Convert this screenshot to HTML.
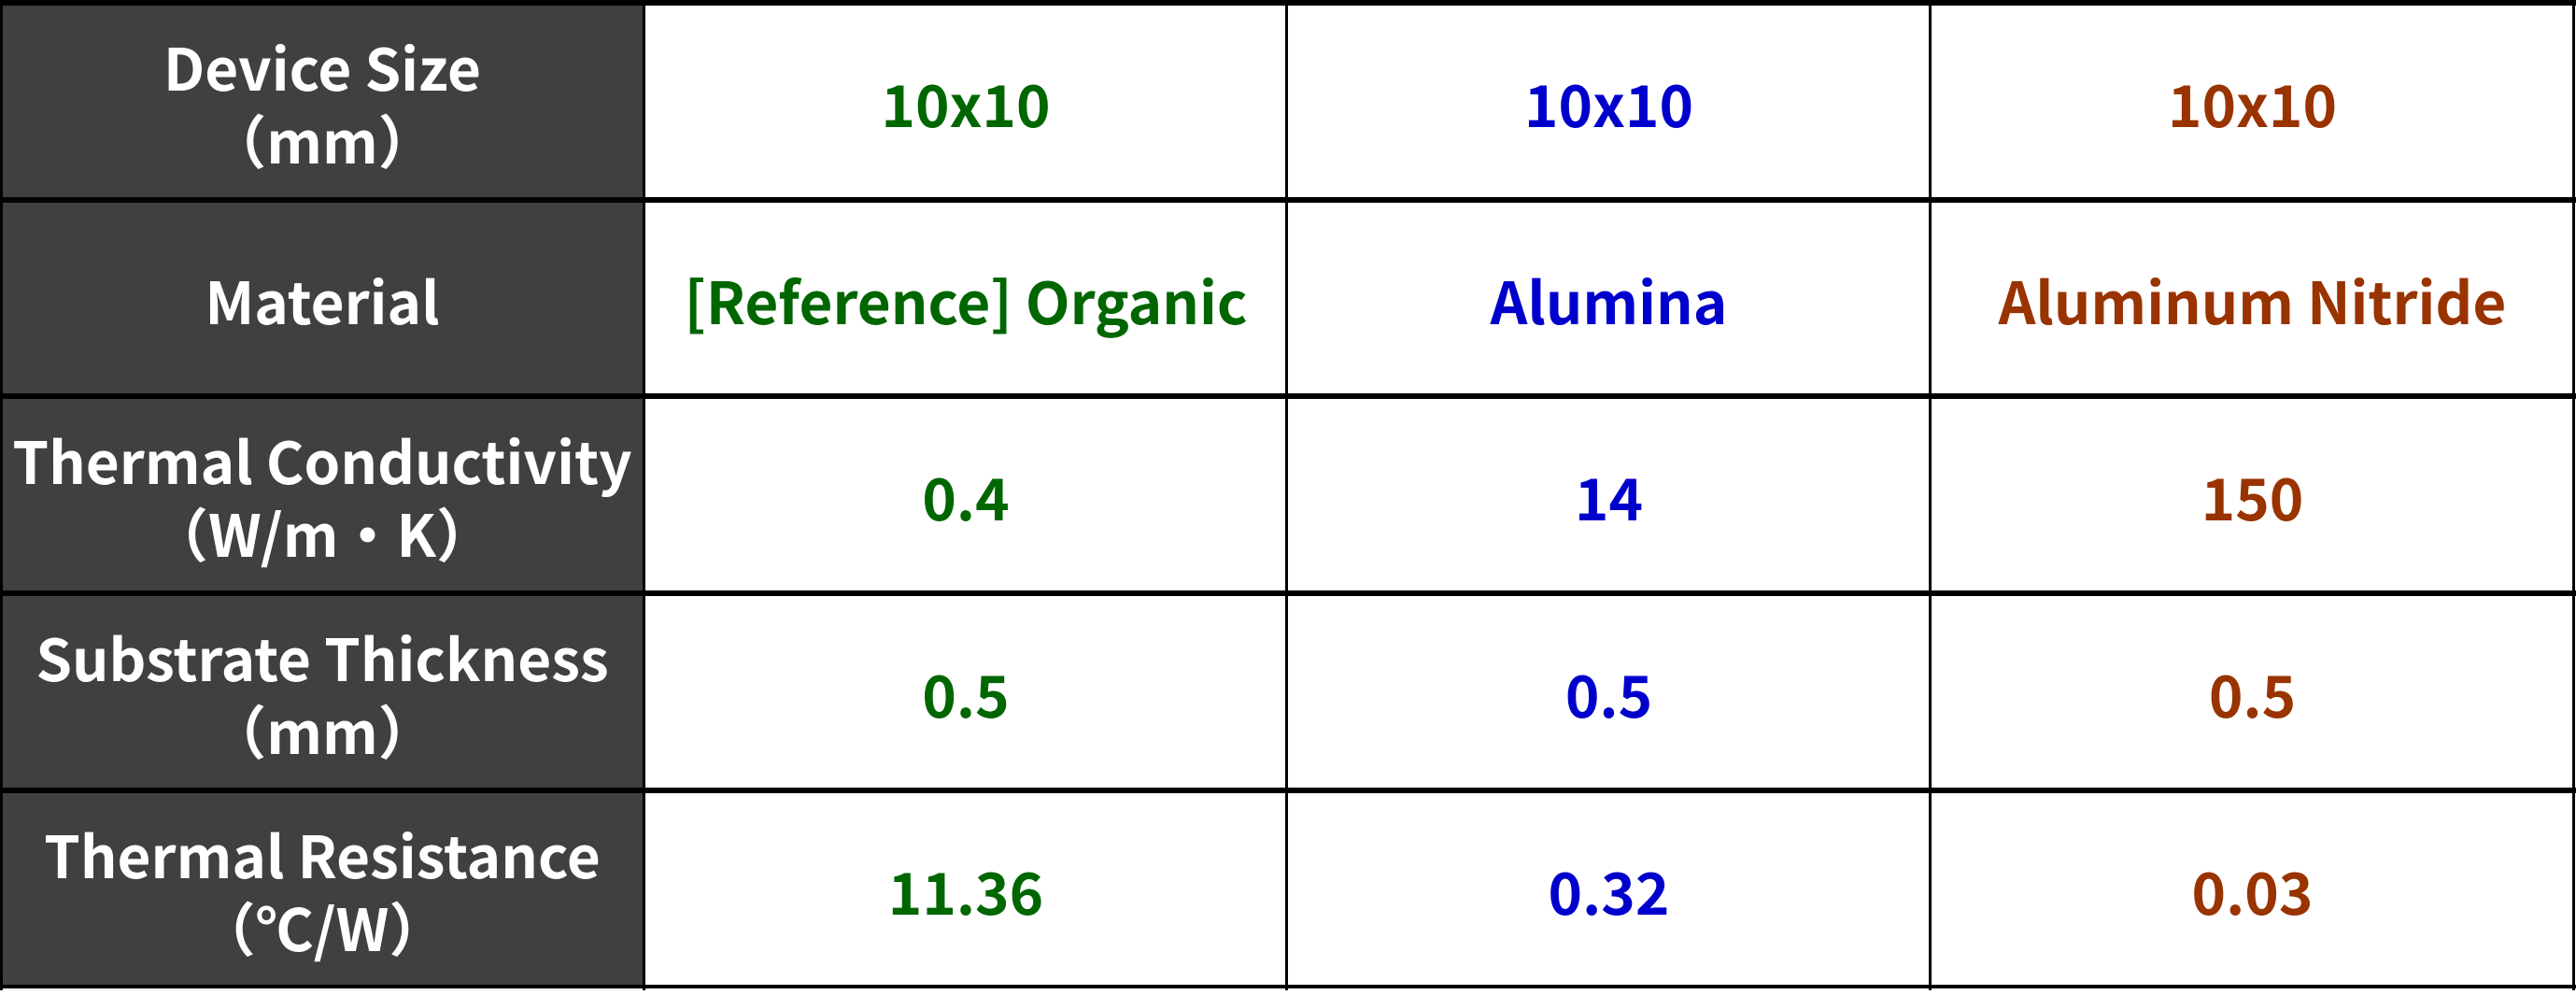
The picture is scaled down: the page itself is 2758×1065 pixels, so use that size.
<!DOCTYPE html>
<html><head><meta charset="utf-8"><style>
html,body{margin:0;padding:0;background:#fff;width:2758px;height:1065px;overflow:hidden;position:relative}
.c{position:absolute;display:flex;align-items:center;justify-content:center;text-align:center;white-space:nowrap;
font-family:"Noto Sans CJK JP","Liberation Sans",sans-serif;font-weight:700;font-size:62px;line-height:78px;box-sizing:border-box}
.h{background:#404040;color:#fff}
.g{color:#006600}.b{color:#0000cc}.r{color:#993300}
.hl{position:absolute;left:0;width:2758px;height:6px;background:#000}
.vl{position:absolute;top:0;width:3px;height:1060px;background:#000}
</style></head><body>
<div class="c h" style="left:0;top:0;width:690px;height:1058px"></div>
<div class="c h" style="left:0;top:5px;width:690px;height:208px">Device Size<br>（mm）</div>
<div class="c g" style="left:690px;top:5px;width:688px;height:208px">10x10</div>
<div class="c b" style="left:1378px;top:5px;width:689px;height:208px">10x10</div>
<div class="c r" style="left:2067px;top:5px;width:689px;height:208px">10x10</div>

<div class="c h" style="left:0;top:216px;width:690px;height:207px">Material</div>
<div class="c g" style="left:690px;top:216px;width:688px;height:207px">[Reference] Organic</div>
<div class="c b" style="left:1378px;top:216px;width:689px;height:207px">Alumina</div>
<div class="c r" style="left:2067px;top:216px;width:689px;height:207px">Aluminum Nitride</div>

<div class="c h" style="left:0;top:426px;width:690px;height:208px">Thermal Conductivity<br>（W/m・K）</div>
<div class="c g" style="left:690px;top:426px;width:688px;height:208px">0.4</div>
<div class="c b" style="left:1378px;top:426px;width:689px;height:208px">14</div>
<div class="c r" style="left:2067px;top:426px;width:689px;height:208px">150</div>

<div class="c h" style="left:0;top:637px;width:690px;height:208px">Substrate Thickness<br>（mm）</div>
<div class="c g" style="left:690px;top:637px;width:688px;height:208px">0.5</div>
<div class="c b" style="left:1378px;top:637px;width:689px;height:208px">0.5</div>
<div class="c r" style="left:2067px;top:637px;width:689px;height:208px">0.5</div>

<div class="c h" style="left:0;top:848px;width:690px;height:208px">Thermal Resistance<br>（℃/W）</div>
<div class="c g" style="left:690px;top:848px;width:688px;height:208px">11.36</div>
<div class="c b" style="left:1378px;top:848px;width:689px;height:208px">0.32</div>
<div class="c r" style="left:2067px;top:848px;width:689px;height:208px">0.03</div>

<div class="hl" style="top:0"></div>
<div class="hl" style="top:211px"></div>
<div class="hl" style="top:421px"></div>
<div class="hl" style="top:632px"></div>
<div class="hl" style="top:843px"></div>
<div class="hl" style="top:1054px;height:4px"></div>
<div class="vl" style="left:0"></div>
<div class="vl" style="left:688px"></div>
<div class="vl" style="left:1376px"></div>
<div class="vl" style="left:2065px"></div>
<div class="vl" style="left:2754px"></div>
</body></html>
